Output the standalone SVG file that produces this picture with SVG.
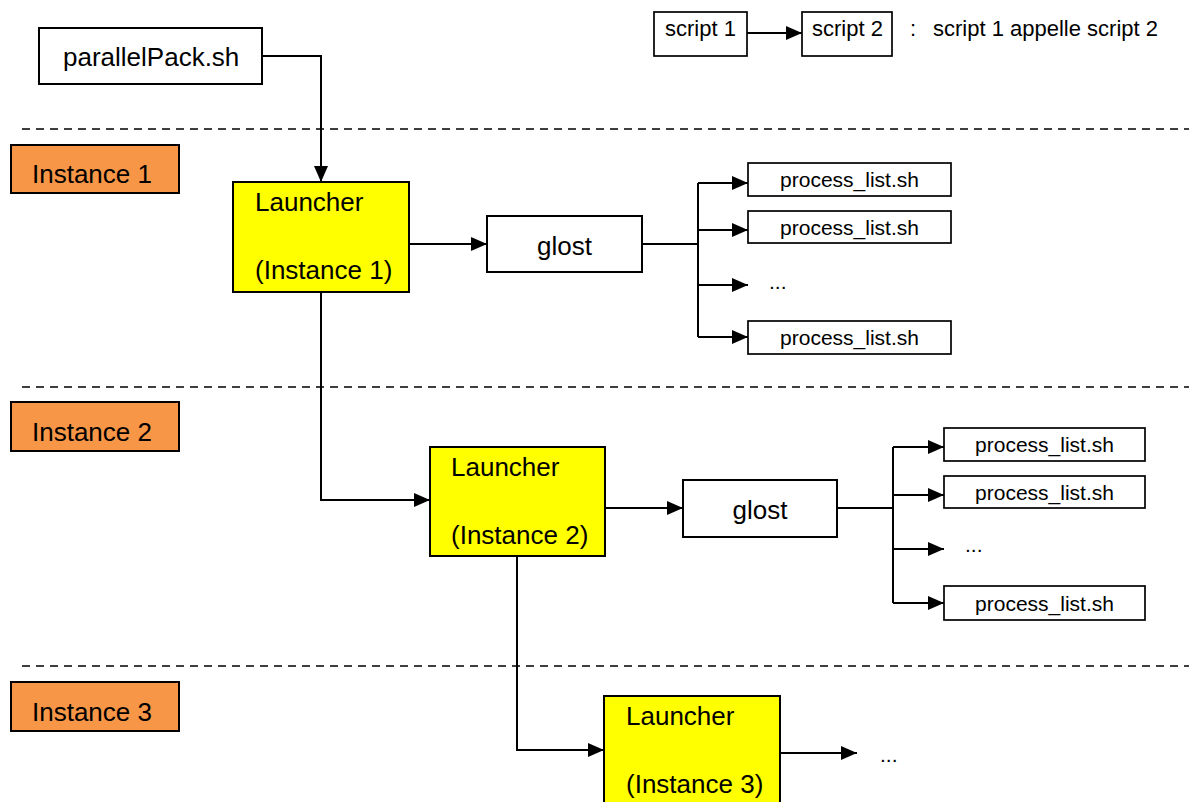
<svg xmlns="http://www.w3.org/2000/svg" width="1189" height="802" viewBox="0 0 1189 802">
  <defs>
    <marker id="arrow" markerWidth="16" markerHeight="14" refX="16" refY="7" orient="auto" markerUnits="userSpaceOnUse">
      <path d="M0,0 L16,7 L0,14 Z" fill="#000"/>
    </marker>
    <style>
      text { font-family: "Liberation Sans", Arial, sans-serif; fill: #000; }
      .big { font-size: 26px; }
      .small { font-size: 21px; }
      .legend { font-size: 22px; }
      .box { fill: #fff; stroke: #000; stroke-width: 2; }
      .pbox { fill: #fff; stroke: #000; stroke-width: 1.7; }
      .launcher { fill: #ffff00; stroke: #000; stroke-width: 2; }
      .instance { fill: #f79646; stroke: #000; stroke-width: 2; }
      .conn { fill: none; stroke: #000; stroke-width: 2; }
      .sep { fill: none; stroke: #000; stroke-width: 1.5; stroke-dasharray: 8 6; }
    </style>
  </defs>

  <rect width="1189" height="802" fill="#fff"/>

  <!-- instance separators -->
  <g id="separators">
    <line class="sep" x1="22" y1="129" x2="1189" y2="129"/>
    <line class="sep" x1="22" y1="387" x2="1189" y2="387"/>
    <line class="sep" x1="22" y1="666" x2="1189" y2="666"/>
  </g>

  <!-- legend -->
  <g id="legend-script1">
    <rect class="pbox" x="654" y="12" width="93" height="44"/>
    <text class="legend" x="665" y="36">script 1</text>
  </g>
  <g id="legend-script2">
    <rect class="pbox" x="802" y="12" width="90" height="44"/>
    <text class="legend" x="812" y="36">script 2</text>
  </g>
  <g id="legend-text">
    <text class="legend" x="910" y="36">:</text>
    <text class="legend" x="933" y="36">script 1 appelle script 2</text>
  </g>

  <!-- connectors -->
  <g id="connectors">
    <path class="conn" d="M747,33 H802" marker-end="url(#arrow)"/>
    <path class="conn" d="M262,56 H321 V182" marker-end="url(#arrow)"/>
    <path class="conn" d="M409,244 H487" marker-end="url(#arrow)"/>
    <path class="conn" d="M642,244 H698"/>
    <path class="conn" d="M698,183 V337"/>
    <path class="conn" d="M698,183 H748" marker-end="url(#arrow)"/>
    <path class="conn" d="M698,230 H748" marker-end="url(#arrow)"/>
    <path class="conn" d="M698,285 H748" marker-end="url(#arrow)"/>
    <path class="conn" d="M698,337 H748" marker-end="url(#arrow)"/>
    <path class="conn" d="M321,292 V500 H430" marker-end="url(#arrow)"/>
    <path class="conn" d="M605,508 H683" marker-end="url(#arrow)"/>
    <path class="conn" d="M837,508 H893"/>
    <path class="conn" d="M893,447 V603"/>
    <path class="conn" d="M893,447 H944" marker-end="url(#arrow)"/>
    <path class="conn" d="M893,495 H944" marker-end="url(#arrow)"/>
    <path class="conn" d="M893,549 H944" marker-end="url(#arrow)"/>
    <path class="conn" d="M893,603 H944" marker-end="url(#arrow)"/>
    <path class="conn" d="M517,556 V750 H604" marker-end="url(#arrow)"/>
    <path class="conn" d="M780,753 H857" marker-end="url(#arrow)"/>
  </g>

  <!-- top-level script -->
  <g id="parallelPack">
    <rect class="box" x="39" y="28" width="223" height="56"/>
    <text class="big" x="63" y="66">parallelPack.sh</text>
  </g>

  <!-- instance labels -->
  <g id="instance1">
    <rect class="instance" x="11" y="145" width="168" height="48"/>
    <text class="big" x="32" y="183">Instance 1</text>
  </g>
  <g id="instance2">
    <rect class="instance" x="11" y="402" width="168" height="49"/>
    <text class="big" x="32" y="441">Instance 2</text>
  </g>
  <g id="instance3">
    <rect class="instance" x="11" y="682" width="168" height="49"/>
    <text class="big" x="32" y="721">Instance 3</text>
  </g>

  <!-- instance 1 -->
  <g id="launcher1">
    <rect class="launcher" x="233" y="182" width="176" height="110"/>
    <text class="big" x="255" y="211">Launcher</text>
    <text class="big" x="255" y="279">(Instance 1)</text>
  </g>
  <g id="glost1">
    <rect class="box" x="487" y="216" width="155" height="56"/>
    <text class="big" x="564.5" y="255" text-anchor="middle">glost</text>
  </g>
  <g id="process1a">
    <rect class="pbox" x="748" y="163" width="203" height="33"/>
    <text class="small" x="849.5" y="187" text-anchor="middle">process_list.sh</text>
  </g>
  <g id="process1b">
    <rect class="pbox" x="748" y="211" width="203" height="32"/>
    <text class="small" x="849.5" y="235" text-anchor="middle">process_list.sh</text>
  </g>
  <g id="process1-more">
    <text class="small" x="769" y="289">...</text>
  </g>
  <g id="process1c">
    <rect class="pbox" x="748" y="321" width="203" height="33"/>
    <text class="small" x="849.5" y="345" text-anchor="middle">process_list.sh</text>
  </g>

  <!-- instance 2 -->
  <g id="launcher2">
    <rect class="launcher" x="430" y="447" width="175" height="109"/>
    <text class="big" x="451" y="476">Launcher</text>
    <text class="big" x="451" y="544">(Instance 2)</text>
  </g>
  <g id="glost2">
    <rect class="box" x="683" y="480" width="154" height="57"/>
    <text class="big" x="760" y="519" text-anchor="middle">glost</text>
  </g>
  <g id="process2a">
    <rect class="pbox" x="944" y="428" width="201" height="33"/>
    <text class="small" x="1044.5" y="452" text-anchor="middle">process_list.sh</text>
  </g>
  <g id="process2b">
    <rect class="pbox" x="944" y="476" width="201" height="32"/>
    <text class="small" x="1044.5" y="500" text-anchor="middle">process_list.sh</text>
  </g>
  <g id="process2-more">
    <text class="small" x="965" y="552">...</text>
  </g>
  <g id="process2c">
    <rect class="pbox" x="944" y="586" width="201" height="34"/>
    <text class="small" x="1044.5" y="611" text-anchor="middle">process_list.sh</text>
  </g>

  <!-- instance 3 -->
  <g id="launcher3">
    <rect class="launcher" x="604" y="696" width="176" height="110"/>
    <text class="big" x="626" y="725">Launcher</text>
    <text class="big" x="626" y="793">(Instance 3)</text>
  </g>
  <g id="instance3-more">
    <text class="small" x="880" y="762">...</text>
  </g>
</svg>
